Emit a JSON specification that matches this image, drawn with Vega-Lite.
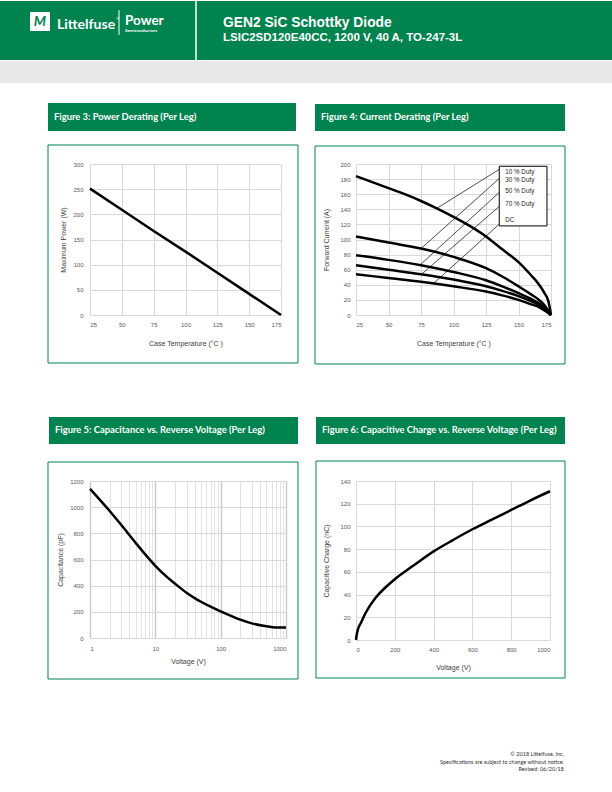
{
  "$schema": "https://vega.github.io/schema/vega-lite/v6.json",
  "padding": 0,
  "autosize": {"type": "pad"},
  "background": "white",
  "bounds": "flush",
  "columns": 2,
  "align": "each",
  "spacing": {"row": 166, "column": 70},
  "config": {
    "font": "Liberation Sans",
    "view": {"stroke": null},
    "axis": {
      "domain": false, "ticks": false, "grid": true, "labelOverlap": false,
      "gridColor": "#d9d9d9", "gridWidth": 1,
      "labelFont": "Liberation Sans", "labelFontSize": 6, "labelColor": "#595959",
      "titleFont": "Liberation Sans", "titleFontSize": 7, "titleFontWeight": "normal", "titleColor": "#404040"
    }
  },
  "datasets": {
    "one": [{}],
    "power": [
      {"T": 25, "P": 251}, {"T": 50, "P": 209}, {"T": 75, "P": 167}, {"T": 100, "P": 126},
      {"T": 125, "P": 84}, {"T": 150, "P": 42}, {"T": 175, "P": 0}
    ],
    "derating": [
      {"series": "10 % Duty", "T": 25, "I": 184}, {"series": "10 % Duty", "T": 37.5, "I": 176}, {"series": "10 % Duty", "T": 50, "I": 168},
      {"series": "10 % Duty", "T": 62.5, "I": 160}, {"series": "10 % Duty", "T": 75, "I": 151}, {"series": "10 % Duty", "T": 87.5, "I": 141},
      {"series": "10 % Duty", "T": 100, "I": 130}, {"series": "10 % Duty", "T": 112.5, "I": 118}, {"series": "10 % Duty", "T": 125, "I": 104},
      {"series": "10 % Duty", "T": 137.5, "I": 87}, {"series": "10 % Duty", "T": 150, "I": 70}, {"series": "10 % Duty", "T": 160, "I": 52},
      {"series": "10 % Duty", "T": 165, "I": 42}, {"series": "10 % Duty", "T": 170, "I": 29}, {"series": "10 % Duty", "T": 173, "I": 18},
      {"series": "10 % Duty", "T": 175, "I": 0},
      {"series": "30 % Duty", "T": 25, "I": 104}, {"series": "30 % Duty", "T": 50, "I": 96}, {"series": "30 % Duty", "T": 75, "I": 88},
      {"series": "30 % Duty", "T": 100, "I": 77}, {"series": "30 % Duty", "T": 125, "I": 62}, {"series": "30 % Duty", "T": 137.5, "I": 51},
      {"series": "30 % Duty", "T": 150, "I": 38}, {"series": "30 % Duty", "T": 160, "I": 27}, {"series": "30 % Duty", "T": 165, "I": 21},
      {"series": "30 % Duty", "T": 170, "I": 13}, {"series": "30 % Duty", "T": 175, "I": 0},
      {"series": "50 % Duty", "T": 25, "I": 79}, {"series": "50 % Duty", "T": 50, "I": 73}, {"series": "50 % Duty", "T": 75, "I": 66},
      {"series": "50 % Duty", "T": 100, "I": 57}, {"series": "50 % Duty", "T": 125, "I": 46}, {"series": "50 % Duty", "T": 137.5, "I": 38},
      {"series": "50 % Duty", "T": 150, "I": 29}, {"series": "50 % Duty", "T": 160, "I": 21}, {"series": "50 % Duty", "T": 165, "I": 16},
      {"series": "50 % Duty", "T": 170, "I": 10}, {"series": "50 % Duty", "T": 175, "I": 0},
      {"series": "70 % Duty", "T": 25, "I": 66}, {"series": "70 % Duty", "T": 50, "I": 60}, {"series": "70 % Duty", "T": 75, "I": 54},
      {"series": "70 % Duty", "T": 100, "I": 47}, {"series": "70 % Duty", "T": 125, "I": 38}, {"series": "70 % Duty", "T": 137.5, "I": 32},
      {"series": "70 % Duty", "T": 150, "I": 25}, {"series": "70 % Duty", "T": 160, "I": 18}, {"series": "70 % Duty", "T": 165, "I": 14},
      {"series": "70 % Duty", "T": 170, "I": 8}, {"series": "70 % Duty", "T": 175, "I": 0},
      {"series": "DC", "T": 25, "I": 54}, {"series": "DC", "T": 50, "I": 49}, {"series": "DC", "T": 75, "I": 44},
      {"series": "DC", "T": 100, "I": 38}, {"series": "DC", "T": 125, "I": 31}, {"series": "DC", "T": 137.5, "I": 26},
      {"series": "DC", "T": 150, "I": 20}, {"series": "DC", "T": 160, "I": 14}, {"series": "DC", "T": 165, "I": 11},
      {"series": "DC", "T": 170, "I": 6}, {"series": "DC", "T": 175, "I": 0}
    ],
    "leaders": [
      {"T1": 135.7, "I1": 193.4, "T2": 86.7, "I2": 140.8},
      {"T1": 135.7, "I1": 181.6, "T2": 74.0, "I2": 86.4},
      {"T1": 135.7, "I1": 163.2, "T2": 74.0, "I2": 65.8},
      {"T1": 135.7, "I1": 144.7, "T2": 75.2, "I2": 53.6},
      {"T1": 135.7, "I1": 121.1, "T2": 84.6, "I2": 41.7}
    ],
    "cap": [
      {"V": 1, "C": 1140}, {"V": 2, "C": 971}, {"V": 3, "C": 865}, {"V": 5, "C": 727}, {"V": 7, "C": 639},
      {"V": 10, "C": 552}, {"V": 15, "C": 467}, {"V": 20, "C": 415}, {"V": 30, "C": 346}, {"V": 40, "C": 305},
      {"V": 50, "C": 277}, {"V": 70, "C": 239}, {"V": 100, "C": 203}, {"V": 150, "C": 165}, {"V": 200, "C": 140},
      {"V": 300, "C": 112}, {"V": 500, "C": 90}, {"V": 700, "C": 81}, {"V": 1000, "C": 80}
    ],
    "charge": [
      {"V": 0, "Q": 0}, {"V": 5, "Q": 6}, {"V": 10, "Q": 9.5}, {"V": 25, "Q": 15}, {"V": 50, "Q": 24},
      {"V": 100, "Q": 37}, {"V": 150, "Q": 46}, {"V": 200, "Q": 53.5}, {"V": 300, "Q": 66}, {"V": 400, "Q": 78},
      {"V": 500, "Q": 88}, {"V": 600, "Q": 97.5}, {"V": 700, "Q": 106}, {"V": 800, "Q": 114.5}, {"V": 900, "Q": 123},
      {"V": 1000, "Q": 131}
    ]
  },
  "concat": [
    {
      "width": 191, "height": 151,
      "layer": [
        {"data": {"name": "one"}, "mark": {"type": "rect", "fill": "#00834e"},
         "encoding": {"x": {"datum": -45.68}, "x2": {"datum": 434.95}, "y": {"datum": 623.84}, "y2": {"datum": 506.62}}},
        {"data": {"name": "one"}, "mark": {"type": "rect", "fill": "#e8e8e8"},
         "encoding": {"x": {"datum": -45.68}, "x2": {"datum": 434.95}, "y": {"datum": 504.64}, "y2": {"datum": 460.93}}},
        {"data": {"name": "one"}, "mark": {"type": "rule", "color": "white", "strokeWidth": 1.5},
         "encoding": {"x": {"datum": 108.25}, "y": {"datum": 623.84}, "y2": {"datum": 506.62}}},
        {"data": {"name": "one"}, "mark": {"type": "rect", "fill": "white"},
         "encoding": {"x": {"datum": -22.12}, "x2": {"datum": -6.41}, "y": {"datum": 602}, "y2": {"datum": 564.2}}},
        {"data": {"name": "one"}, "mark": {"type": "text", "text": "M", "font": "Lato", "fontWeight": "bold", "fontStyle": "italic", "fontSize": 14, "color": "#00834e", "align": "center", "baseline": "middle"},
         "encoding": {"x": {"datum": -14.3}, "y": {"datum": 583}}},
        {"data": {"name": "one"}, "mark": {"type": "text", "text": "Littelfuse", "font": "Lato", "fontWeight": "bold", "fontSize": 14, "color": "white", "align": "left", "baseline": "alphabetic"},
         "encoding": {"x": {"datum": -0.92}, "y": {"datum": 568.2}}},
        {"data": {"name": "one"}, "mark": {"type": "text", "text": "®", "font": "Lato", "fontSize": 4, "color": "white", "align": "left", "baseline": "middle"},
         "encoding": {"x": {"datum": 45.4}, "y": {"datum": 588.1}}},
        {"data": {"name": "one"}, "mark": {"type": "rule", "color": "white", "strokeWidth": 1},
         "encoding": {"x": {"datum": 47.78}, "y": {"datum": 605.96}, "y2": {"datum": 556.29}}},
        {"data": {"name": "one"}, "mark": {"type": "text", "text": "Power", "font": "Lato", "fontWeight": "bold", "fontSize": 13.5, "color": "white", "align": "left", "baseline": "alphabetic"},
         "encoding": {"x": {"datum": 52.49}, "y": {"datum": 575.5}}},
        {"data": {"name": "one"}, "mark": {"type": "text", "text": "Semiconductors", "font": "Lato", "fontWeight": "bold", "fontSize": 4.5, "color": "white", "align": "left", "baseline": "alphabetic"},
         "encoding": {"x": {"datum": 52.49}, "y": {"datum": 562.25}}},
        {"data": {"name": "one"}, "mark": {"type": "text", "text": "GEN2 SiC Schottky Diode", "font": "Liberation Sans", "fontWeight": "bold", "fontSize": 13.8, "color": "white", "align": "left", "baseline": "alphabetic"},
         "encoding": {"x": {"datum": 129.45}, "y": {"datum": 572.18}}},
        {"data": {"name": "one"}, "mark": {"type": "text", "text": "LSIC2SD120E40CC, 1200 V,  40 A, TO-247-3L", "font": "Liberation Sans", "fontWeight": "bold", "fontSize": 11.5, "color": "white", "align": "left", "baseline": "alphabetic"},
         "encoding": {"x": {"datum": 129.45}, "y": {"datum": 544.37}}},
        {"data": {"name": "one"}, "mark": {"type": "rect", "fill": "#00834e"},
         "encoding": {"x": {"datum": -7.98}, "x2": {"datum": 186.78}, "y": {"datum": 421.19}, "y2": {"datum": 365.56}}},
        {"data": {"name": "one"}, "mark": {"type": "text", "text": "Figure 3: Power Derating (Per Leg)", "font": "Lato", "fontWeight": "bold", "fontSize": 9.4, "color": "white", "align": "left", "baseline": "middle"},
         "encoding": {"x": {"datum": -3.27}, "y": {"datum": 393.4}}},
        {"data": {"name": "one"}, "mark": {"type": "rect", "fill": null, "fillOpacity": 0, "stroke": "#00834e", "strokeWidth": 1},
         "encoding": {"x": {"datum": -7.98}, "x2": {"datum": 188.35}, "y": {"datum": 337.75}, "y2": {"datum": -95.36}}},
        {"data": {"name": "power"}, "mark": {"type": "line", "color": "black", "strokeWidth": 2.5},
         "encoding": {
           "x": {"field": "T", "type": "quantitative", "scale": {"domain": [25, 175], "nice": false, "zero": false},
                 "axis": {"title": "Case Temperature (°C )", "values": [25, 50, 75, 100, 125, 150, 175], "tickCount": 100, "labelOverlap": false, "labelPadding": 6, "titlePadding": 12}},
           "y": {"field": "P", "type": "quantitative", "scale": {"domain": [0, 300], "nice": false, "zero": false},
                 "axis": {"title": "Maximum Power (W)", "values": [0, 50, 100, 150, 200, 250, 300], "tickCount": 100, "labelOverlap": false, "labelPadding": 7, "titlePadding": 6}}
         }}
      ]
    },
    {
      "width": 195, "height": 151,
      "layer": [
        {"data": {"name": "one"}, "mark": {"type": "rect", "fill": "#00834e"},
         "encoding": {"x": {"datum": -6.54}, "x2": {"datum": 185.77}, "y": {"datum": 279.47}, "y2": {"datum": 243.71}}},
        {"data": {"name": "one"}, "mark": {"type": "text", "text": "Figure 4:  Current Derating (Per Leg)", "font": "Lato", "fontWeight": "bold", "fontSize": 9.4, "color": "white", "align": "left", "baseline": "middle"},
         "encoding": {"x": {"datum": -1.92}, "y": {"datum": 262.25}}},
        {"data": {"name": "one"}, "mark": {"type": "rect", "fill": null, "fillOpacity": 0, "stroke": "#00834e", "strokeWidth": 1},
         "encoding": {"x": {"datum": -6.54}, "x2": {"datum": 185.77}, "y": {"datum": 223.84}, "y2": {"datum": -64.9}}},
        {"data": {"name": "derating"}, "mark": {"type": "line", "strokeWidth": 2.5, "interpolate": "monotone", "color": "black"},
         "encoding": {
           "x": {"field": "T", "type": "quantitative", "scale": {"domain": [25, 175], "nice": false, "zero": false},
                 "axis": {"title": "Case Temperature (°C )", "values": [25, 50, 75, 100, 125, 150, 175], "tickCount": 100, "labelOverlap": false, "labelPadding": 6, "titlePadding": 12}},
           "y": {"field": "I", "type": "quantitative", "scale": {"domain": [0, 200], "nice": false, "zero": false},
                 "axis": {"title": "Forward Current (A)", "values": [0, 20, 40, 60, 80, 100, 120, 140, 160, 180, 200], "tickCount": 100, "labelOverlap": false, "labelPadding": 6, "titlePadding": 10}},
           "detail": {"field": "series", "type": "nominal"}
         }},
        {"data": {"name": "leaders"}, "mark": {"type": "rule", "color": "black", "strokeWidth": 0.7},
         "encoding": {"x": {"field": "T1", "type": "quantitative"}, "y": {"field": "I1", "type": "quantitative"},
                      "x2": {"field": "T2"}, "y2": {"field": "I2"}}},
        {"data": {"name": "one"}, "mark": {"type": "rect", "fill": "white", "stroke": "black", "strokeWidth": 1},
         "encoding": {"x": {"datum": 135.2}, "x2": {"datum": 171.9}, "y": {"datum": 197.0}, "y2": {"datum": 118.0}}},
        {"data": {"name": "one"}, "mark": {"type": "text", "text": "10 % Duty", "font": "Liberation Sans", "fontSize": 6.3, "color": "#262626", "align": "left", "baseline": "middle"},
         "encoding": {"x": {"datum": 139.8}, "y": {"datum": 189.5}}},
        {"data": {"name": "one"}, "mark": {"type": "text", "text": "30 % Duty", "font": "Liberation Sans", "fontSize": 6.3, "color": "#262626", "align": "left", "baseline": "middle"},
         "encoding": {"x": {"datum": 139.8}, "y": {"datum": 178.6}}},
        {"data": {"name": "one"}, "mark": {"type": "text", "text": "50 % Duty", "font": "Liberation Sans", "fontSize": 6.3, "color": "#262626", "align": "left", "baseline": "middle"},
         "encoding": {"x": {"datum": 139.8}, "y": {"datum": 164.1}}},
        {"data": {"name": "one"}, "mark": {"type": "text", "text": "70 % Duty", "font": "Liberation Sans", "fontSize": 6.3, "color": "#262626", "align": "left", "baseline": "middle"},
         "encoding": {"x": {"datum": 139.8}, "y": {"datum": 146.4}}},
        {"data": {"name": "one"}, "mark": {"type": "text", "text": "DC", "font": "Liberation Sans", "fontSize": 6.3, "color": "#262626", "align": "left", "baseline": "middle"},
         "encoding": {"x": {"datum": 139.8}, "y": {"datum": 125.9}}}
      ]
    },
    {
      "width": 196, "height": 157,
      "layer": [
        {"data": {"name": "one"}, "mark": {"type": "rect", "fill": "#00834e"},
         "encoding": {"x": {"datum": 0.23574}, "x2": {"datum": 1526.4}, "y": {"datum": 1689.17}, "y2": {"datum": 1482.8}}},
        {"data": {"name": "one"}, "mark": {"type": "text", "text": "Figure 5: Capacitance vs. Reverse Voltage (Per Leg)", "font": "Lato", "fontWeight": "bold", "fontSize": 9.4, "color": "white", "align": "left", "baseline": "middle"},
         "encoding": {"x": {"datum": 0.29126}, "y": {"datum": 1585.99}}},
        {"data": {"name": "one"}, "mark": {"type": "rect", "fill": null, "fillOpacity": 0, "stroke": "#00834e", "strokeWidth": 1},
         "encoding": {"x": {"datum": 0.22758}, "x2": {"datum": 1526.4}, "y": {"datum": 1345.22}, "y2": {"datum": -313.38}}},
        {"data": {"name": "cap"}, "mark": {"type": "line", "color": "black", "strokeWidth": 2.5, "interpolate": "monotone"},
         "encoding": {
           "x": {"field": "V", "type": "quantitative", "scale": {"type": "log", "domain": [1, 1000], "nice": false},
                 "axis": {"title": "Voltage (V)", "values": [1, 2, 3, 4, 5, 6, 7, 8, 9, 10, 20, 30, 40, 50, 60, 70, 80, 90, 100, 200, 300, 400, 500, 600, 700, 800, 900, 1000],
                          "tickCount": 100,
                          "labelExpr": "indexof([1, 10, 100, 1000], datum.value) >= 0 ? format(datum.value, 'd') : ''",
                          "labelOverlap": false, "labelPadding": 7, "titlePadding": 6,
                          "gridColor": {"condition": {"test": "indexof([1, 10, 100, 1000], datum.value) >= 0", "value": "#c8c8c8"}, "value": "#e2e2e2"},
                          "gridWidth": {"condition": {"test": "indexof([1, 10, 100, 1000], datum.value) >= 0", "value": 1.4}, "value": 1}}},
           "y": {"field": "C", "type": "quantitative", "scale": {"domain": [0, 1200], "nice": false, "zero": false},
                 "axis": {"title": "Capacitance (pF)", "values": [0, 200, 400, 600, 800, 1000, 1200], "tickCount": 100, "format": "d", "labelOverlap": false, "labelPadding": 7, "titlePadding": 6}}
         }}
      ]
    },
    {
      "width": 194, "height": 159,
      "layer": [
        {"data": {"name": "one"}, "mark": {"type": "rect", "fill": "#00834e"},
         "encoding": {"x": {"datum": -206.19}, "x2": {"datum": 1077.32}, "y": {"datum": 196.35}, "y2": {"datum": 172.58}}},
        {"data": {"name": "one"}, "mark": {"type": "text", "text": "Figure 6: Capacitive Charge vs. Reverse Voltage (Per Leg)", "font": "Lato", "fontWeight": "bold", "fontSize": 9.4, "color": "white", "align": "left", "baseline": "middle"},
         "encoding": {"x": {"datum": -175.26}, "y": {"datum": 184.47}}},
        {"data": {"name": "one"}, "mark": {"type": "rect", "fill": null, "fillOpacity": 0, "stroke": "#00834e", "strokeWidth": 1},
         "encoding": {"x": {"datum": -206.19}, "x2": {"datum": 1077.32}, "y": {"datum": 157.61}, "y2": {"datum": -33.46}}},
        {"data": {"name": "one"}, "mark": {"type": "text", "text": "© 2018 Littelfuse, Inc.", "font": "Lato", "fontSize": 5.5, "color": "#333333", "align": "right", "baseline": "middle"},
         "encoding": {"x": {"datum": 1072.16}, "y": {"datum": -100.38}}},
        {"data": {"name": "one"}, "mark": {"type": "text", "text": "Specifications are subject to change without notice.", "font": "Lato", "fontSize": 5.5, "color": "#333333", "align": "right", "baseline": "middle"},
         "encoding": {"x": {"datum": 1072.16}, "y": {"datum": -107.0}}},
        {"data": {"name": "one"}, "mark": {"type": "text", "text": "Revised: 06/20/18", "font": "Lato", "fontSize": 5.5, "color": "#333333", "align": "right", "baseline": "middle"},
         "encoding": {"x": {"datum": 1072.16}, "y": {"datum": -113.6}}},
        {"data": {"name": "charge"}, "mark": {"type": "line", "color": "black", "strokeWidth": 2.5, "interpolate": "monotone"},
         "encoding": {
           "x": {"field": "V", "type": "quantitative", "scale": {"domain": [0, 1000], "nice": false, "zero": false},
                 "axis": {"title": "Voltage (V)", "values": [0, 200, 400, 600, 800, 1000], "format": "d", "tickCount": 100, "labelOverlap": false, "labelPadding": 6, "titlePadding": 11}},
           "y": {"field": "Q", "type": "quantitative", "scale": {"domain": [0, 140], "nice": false, "zero": false},
                 "axis": {"title": "Capacitive Charge (nC)", "values": [0, 20, 40, 60, 80, 100, 120, 140], "tickCount": 100, "labelOverlap": false, "labelPadding": 6, "titlePadding": 10}}
         }}
      ]
    }
  ]
}
